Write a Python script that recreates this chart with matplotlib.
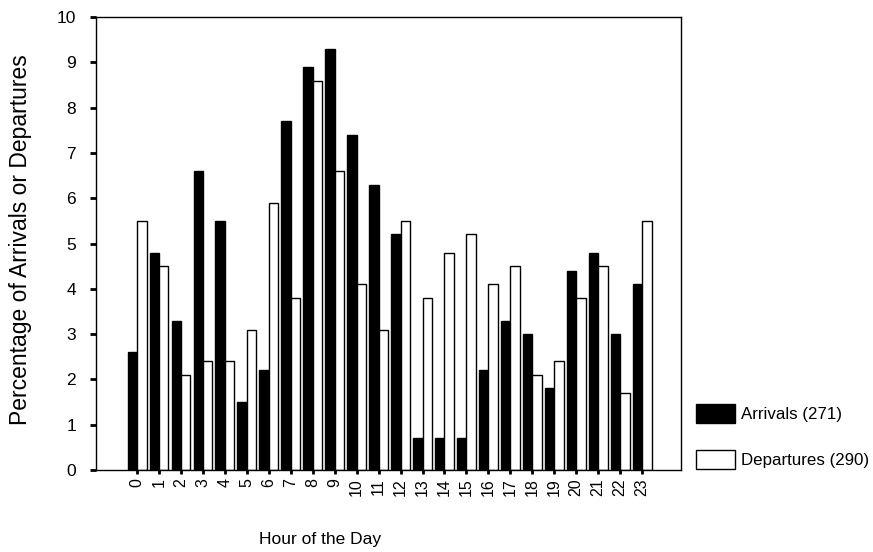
import matplotlib
matplotlib.use("Agg")
import matplotlib.pyplot as plt
import numpy as np

plt.rcParams["font.family"] = ["Liberation Sans", "DejaVu Sans"]

hours = list(range(24))
arrivals = [2.6, 4.8, 3.3, 6.6, 5.5, 1.5, 2.2, 7.7, 8.9, 9.3, 7.4, 6.3,
            5.2, 0.7, 0.7, 0.7, 2.2, 3.3, 3.0, 1.8, 4.4, 4.8, 3.0, 4.1]
departures = [5.5, 4.5, 2.1, 2.4, 2.4, 3.1, 5.9, 3.8, 8.6, 6.6, 4.1, 3.1,
              5.5, 3.8, 4.8, 5.2, 4.1, 4.5, 2.1, 2.4, 3.8, 4.5, 1.7, 5.5]
yticks = list(range(11))

fig = plt.figure(figsize=(8.73, 5.52), dpi=100)
ax = fig.add_axes([0.110, 0.1486, 0.670, 0.8204])

x = np.array(hours)
w = 0.43
ax.bar(x - w / 2, arrivals, width=w, color="black", edgecolor="black",
       linewidth=1.0, label="Arrivals (271)")
ax.bar(x + w / 2, departures, width=w, color="white", edgecolor="black",
       linewidth=1.0, label="Departures (290)")

ax.set_xlim(-1.87, 24.77)
ax.set_ylim(0, 10)
ax.set_yticks(yticks)
ax.set_xticks(hours)
ax.set_xticklabels([str(h) for h in hours], rotation=90, fontsize=11.5)
ax.tick_params(axis="y", labelsize=12.5, length=4.5, width=2, direction="out", pad=10)
ax.tick_params(axis="x", length=3, width=2, direction="out", pad=3)
for s in ax.spines.values():
    s.set_linewidth(1.0)

fig.text(0.024, 0.565, "Percentage of Arrivals or Departures", rotation=90,
         va="center", ha="center", fontsize=16.5)
fig.text(0.367, 0.022, "Hour of the Day", ha="center", va="center", fontsize=12.5)

fig.legend(loc="upper left", bbox_to_anchor=(0.789, 0.281), frameon=False,
           fontsize=12.2, handlelength=2.35, handleheight=1.4, labelspacing=1.55,
           handletextpad=0.35, borderaxespad=0)

fig.savefig("out.png", dpi=100)
